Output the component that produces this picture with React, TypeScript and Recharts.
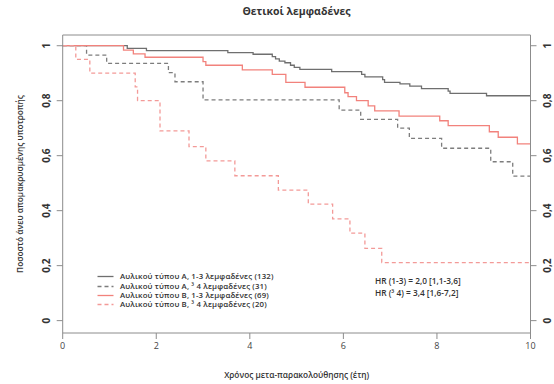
import { LineChart, Line, XAxis, YAxis, ReferenceLine } from 'recharts';

// Kaplan-Meier curves (time in years, survival fraction)
const timesA13 = [0, 1.38, 1.79, 3.53, 4.07, 4.48, 4.55, 4.63, 4.75, 4.87, 4.95, 5.07, 5.75, 6.39, 6.46, 6.84, 6.88, 7.21, 7.42, 7.67, 8.24, 8.28, 9.06, 10];
const survA13 = [1, 0.99, 0.982, 0.975, 0.969, 0.96, 0.952, 0.944, 0.938, 0.929, 0.921, 0.914, 0.906, 0.896, 0.887, 0.877, 0.867, 0.861, 0.853, 0.844, 0.835, 0.827, 0.818, 0.818];

const timesA4 = [0, 0.51, 0.94, 2.26, 2.4, 3.0, 5.91, 6.37, 7.16, 7.41, 8.1, 9.15, 9.62, 10];
const survA4 = [1, 0.966, 0.936, 0.902, 0.869, 0.803, 0.766, 0.732, 0.7, 0.663, 0.627, 0.578, 0.526, 0.526];

const timesB13 = [0, 1.3, 1.51, 1.76, 3.0, 3.06, 3.84, 4.48, 4.77, 5.18, 6.03, 6.1, 6.28, 6.53, 6.67, 7.19, 8.06, 8.24, 9.12, 9.31, 9.72, 10];
const survB13 = [1, 0.984, 0.97, 0.958, 0.942, 0.929, 0.912, 0.896, 0.867, 0.849, 0.829, 0.815, 0.8, 0.781, 0.763, 0.744, 0.727, 0.709, 0.687, 0.667, 0.643, 0.643];

const timesB4 = [0, 0.28, 0.58, 1.55, 1.6, 2.08, 2.7, 3.06, 3.68, 4.61, 5.25, 5.77, 6.14, 6.46, 6.82, 10];
const survB4 = [1, 0.95, 0.9, 0.85, 0.8, 0.69, 0.633, 0.581, 0.527, 0.475, 0.424, 0.37, 0.318, 0.263, 0.211, 0.211];

const xTicks = [0, 2, 4, 6, 8, 10];
const yTicks = [0, 0.2, 0.4, 0.6, 0.8, 1];

const seriesNames = [
  'Αυλικού τύπου Α, 1-3 λεμφαδένες (132)',
  'Αυλικού τύπου Α, ³ 4 λεμφαδένες (31)',
  'Αυλικού τύπου Β, 1-3 λεμφαδένες (69)',
  'Αυλικού τύπου Β, ³ 4 λεμφαδένες (20)',
];
const hrLines = ['HR (1-3) = 2,0 [1,1-3,6]', 'HR (³ 4) = 3,4 [1,6-7,2]'];

const zip = (t: number[], s: number[]) => t.map((v, i) => ({ t: v, s: s[i] }));

const AXIS = '#8c8c8c';
const FONT = '"Open Sans", sans-serif';
const Y_MIN = -0.045;
const Y_MAX = 1.039;

const styles = [
  { color: '#6f6f6f', dash: undefined },
  { color: '#7d7d7d', dash: '4 3' },
  { color: '#f2827c', dash: undefined },
  { color: '#f39a98', dash: '4 3' },
];

const data = [zip(timesA13, survA13), zip(timesA4, survA4), zip(timesB13, survB13), zip(timesB4, survB4)];

const fmt = (v: number) => String(v).replace('.', ',');

const LeftTick = ({ x, y, payload }: any) => {
  const bx = x - 4.5;
  return (
    <text x={bx} y={y} transform={`rotate(-90, ${bx}, ${y})`} textAnchor="middle" fontSize={10} fontWeight={700} fill="#333" fontFamily={FONT}>
      {fmt(payload.value)}
    </text>
  );
};

// right-hand labels sit just inside the page edge
const RightTick = ({ y, payload }: any) => {
  const bx = 551.5;
  return (
    <text x={bx} y={y} transform={`rotate(-90, ${bx}, ${y})`} textAnchor="middle" fontSize={10} fontWeight={700} fill="#333" fontFamily={FONT}>
      {fmt(payload.value)}
    </text>
  );
};

export default function App() {
  return (
    <div style={{ position: 'absolute', left: 0, top: 0, width: 554, height: 384, background: '#fff', fontFamily: FONT }}>
      <LineChart width={554} height={384} margin={{ top: 35, right: 0, bottom: 0, left: 0 }}>
        <XAxis
          dataKey="t"
          type="number"
          domain={[0, 10]}
          ticks={xTicks}
          allowDuplicatedCategory={false}
          height={51}
          stroke={AXIS}
          tickSize={6}
          tickMargin={4}
          tick={{ fontSize: 9, fill: '#444', fontFamily: FONT }}
        />
        <YAxis
          yAxisId="left"
          type="number"
          domain={[Y_MIN, Y_MAX]}
          ticks={yTicks}
          width={62.7}
          stroke={AXIS}
          tickSize={6}
          tickMargin={2}
          tick={<LeftTick />}
        />
        <YAxis
          yAxisId="right"
          orientation="right"
          type="number"
          domain={[Y_MIN, Y_MAX]}
          ticks={yTicks}
          width={23.5}
          stroke={AXIS}
          tickSize={6}
          tickMargin={2}
          tick={<RightTick />}
        />
        <ReferenceLine yAxisId="right" y={Y_MAX} stroke={AXIS} />
        {data.map((d, i) => (
          <Line
            key={seriesNames[i]}
            yAxisId="left"
            data={d}
            dataKey="s"
            name={seriesNames[i]}
            type="stepAfter"
            stroke={styles[i].color}
            strokeDasharray={styles[i].dash}
            strokeWidth={1.3}
            dot={false}
            activeDot={false}
            isAnimationActive={false}
          />
        ))}
        <Line
          yAxisId="right"
          data={data[0]}
          dataKey="s"
          stroke="none"
          dot={false}
          activeDot={false}
          legendType="none"
          isAnimationActive={false}
        />
      </LineChart>

      <div style={{ position: 'absolute', left: 0, width: 554, top: 4, paddingLeft: 39, boxSizing: 'border-box', textAlign: 'center', fontSize: 10.5, fontWeight: 700, color: '#333' }}>
        Θετικοί λεμφαδένες
      </div>

      <div style={{ position: 'absolute', left: 20 - 120, top: 184 - 6, width: 240, height: 12, lineHeight: '12px', textAlign: 'center', transform: 'rotate(-90deg)', fontSize: 8.3, fontWeight: 600, color: '#333' }}>
        Ποσοστό άνευ απομακρυσμένης υποτροπής
      </div>

      <div style={{ position: 'absolute', left: 62.7, width: 468, top: 369, lineHeight: '12px', textAlign: 'center', fontSize: 8.3, fontWeight: 600, color: '#333' }}>
        Χρόνος μετα-παρακολούθησης (έτη)
      </div>

      <div style={{ position: 'absolute', left: 97, top: 272.4 }}>
        {seriesNames.map((n, i) => (
          <div key={n} style={{ display: 'flex', alignItems: 'center', height: 9.2, lineHeight: '9.2px', fontSize: 7.8, letterSpacing: 0.15, fontWeight: 600, color: '#333', whiteSpace: 'nowrap' }}>
            <svg width={17} height={9} style={{ marginRight: 6 }}>
              <line x1={0.5} x2={16.5} y1={4.5} y2={4.5} stroke={styles[i].color} strokeWidth={1.3} strokeDasharray={styles[i].dash} />
            </svg>
            {n}
          </div>
        ))}
      </div>

      <div style={{ position: 'absolute', left: 375, top: 275, fontSize: 8.3, fontWeight: 600, color: '#333', lineHeight: '11.6px', whiteSpace: 'nowrap' }}>
        {hrLines.map(l => (
          <div key={l}>{l}</div>
        ))}
      </div>
    </div>
  );
}
